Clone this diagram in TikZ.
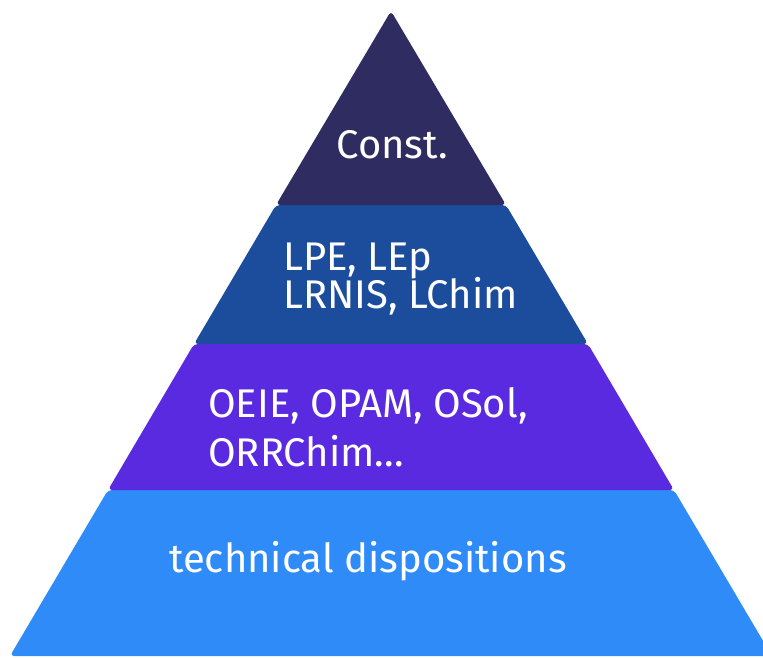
\documentclass[tikz,border=0pt]{standalone}
\usepackage{fontspec}
\setmainfont{Fira Sans}
\definecolor{constcol}{HTML}{2F2C62}
\definecolor{loiscol}{HTML}{1C4C9C}
\definecolor{ordocol}{HTML}{5A2AE0}
\definecolor{techcol}{HTML}{2F8BF8}
\begin{document}
\begin{tikzpicture}[x=1pt, y=-1pt, couche/.style={rounded corners=4pt}]
    \tikzset{texte/.style={text=white, font=\fontsize{40}{44}\selectfont, inner sep=0pt}};
    \useasboundingbox (0,0) rectangle (763,657);
    \clip (0,0) rectangle (763,657);
    % couches de la pyramide
    \fill[couche, fill=techcol] (108,490) -- (674,490) -- (772,656) -- (10,656) -- cycle;
    \fill[couche, fill=ordocol] (194,344) -- (588,344) -- (674,490) -- (108,490) -- cycle;
    \fill[couche, fill=loiscol] (276,205) -- (506,205) -- (588,344) -- (194,344) -- cycle;
    \fill[couche, fill=constcol] (391,11) -- (506,205) -- (276,205) -- cycle;
    % textes
    \node[texte, anchor=base] (const) at (392,158) {Const.};
    \node[texte, anchor=base west] (lois1) at (283,270) {LPE, LEp};
    \node[texte, anchor=base west] (lois2) at (283,308) {LRNIS, LChim};
    \node[texte, anchor=base west] (ordo1) at (208,417) {OEIE, OPAM, OSol,};
    \node[texte, anchor=base west] (ordo2) at (208,466) {ORRChim...};
    \node[texte, anchor=base] (tech) at (368,572) {technical dispositions};
\end{tikzpicture}
\end{document}
